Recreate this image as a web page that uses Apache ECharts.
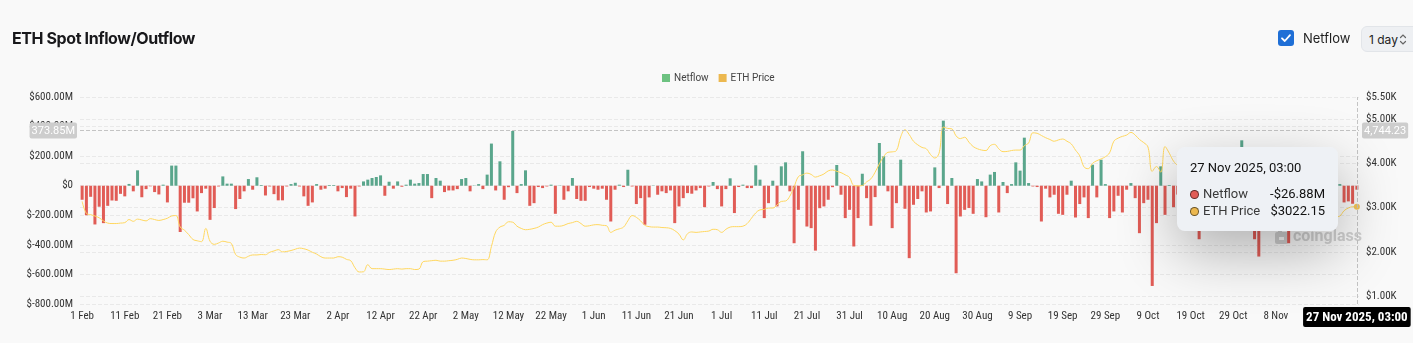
<!DOCTYPE html>
<html>
<head>
<meta charset="utf-8">
<title>ETH Spot Inflow/Outflow</title>
<script src="https://cdn.jsdelivr.net/npm/echarts@6/dist/echarts.min.js"></script>
<style>
  html, body { margin: 0; padding: 0; width: 1413px; height: 343px; overflow: hidden; background: #f9f9f9; font-family: Inter, Roboto, sans-serif; }
  #chart { position: absolute; left: 0; top: 0; width: 1413px; height: 343px; }
  .title { position: absolute; left: 12px; top: 28px; font-size: 16px; line-height: 20px; font-weight: 700; color: #18181b; letter-spacing: -0.4px; z-index: 2; }
  .check { position: absolute; left: 1278px; top: 30px; width: 16px; height: 16px; border-radius: 3px; background: #1f6fd6; z-index: 2; }
  .check svg { position: absolute; left: 2px; top: 2px; }
  .chk-label { position: absolute; left: 1303px; top: 29px; font-size: 13px; line-height: 18px; color: #1f1f1f; z-index: 2; }
  .select { position: absolute; left: 1361px; top: 26px; width: 64px; height: 26px; box-sizing: border-box; border-radius: 6px; background: #eef0f3; border: 1px solid #e2e5e9; z-index: 2; }
  .select span { position: absolute; left: 7px; top: 4px; font-size: 12px; line-height: 17px; color: #222; }
  .select svg { position: absolute; left: 37px; top: 6px; }
</style>
</head>
<body>
<div id="chart"></div>
<div class="title">ETH Spot Inflow/Outflow</div>
<div class="check"><svg width="12" height="12" viewBox="0 0 12 12"><path d="M2 6.3 L4.8 9 L10 3.2" fill="none" stroke="#fff" stroke-width="1.8" stroke-linecap="round" stroke-linejoin="round"/></svg></div>
<div class="chk-label">Netflow</div>
<div class="select"><span>1 day</span><svg width="8" height="13" viewBox="0 0 8 13"><path d="M1.5 4.5 L4 2 L6.5 4.5 M1.5 8.5 L4 11 L6.5 8.5" fill="none" stroke="#666" stroke-width="1.2" stroke-linecap="round"/></svg></div>
<script>
// Daily exchange netflow for ETH spot, in millions of USD (negative = outflow)
const netflowFeb = [-95, -200, -75, -262, -142, -253, -136, -100, -102, -55, -72, 12, -38, 104, -78, -23, -4, -43, -59, 7, -113, 136, 136, -313, -115, -115, -85, -174];
const netflowMar = [-50, -20, -231, -151, -5, 63, 14, 14, -158, -90, -38, 45, -27, 57, 5, -66, -5, -57, -99, -99, -5, 11, 20, -5, -72, -136, -113, 11, -27, -20, 5];
const netflowApr = [5, -38, -16, -77, -20, -208, -5, 29, 41, 52, 59, 70, -68, 27, -20, 29, -7, 7, 41, 14, 18, 79, 79, -84, 52, 34, -43, -32, -32, -23];
const netflowMay = [45, 52, -38, 2, 11, -23, 75, 285, -32, 165, -95, -10, 370, -50, 11, 104, -136, -118, -9, -16, -5, 7, -190, 2, -95, -38, 52, -90, -102, -102, -9];
const netflowJun = [-20, -27, -20, -95, -242, -27, 7, -9, 108, -5, -124, -84, -264, -79, 2, -61, -38, -50, -32, -253, -140, -84, -50, -54, -32, -16, -145, -5, 25, -23];
const netflowJul = [-140, -23, 50, -185, -9, 7, -16, -16, 138, 41, -219, -118, 34, -140, 131, 158, -38, -389, -163, 233, -276, -287, -439, -152, -140, -95, -10, 140, -61, -219, -163];
const netflowAug = [-411, -219, 81, -84, -271, -77, 289, 199, -38, -287, -118, 176, -156, -490, -129, -90, -38, -181, -174, 124, -16, 440, -124, 52, -592, -208, -163, -151, -190, 45, 29];
const netflowSep = [-213, 75, 93, -181, 25, -50, 11, 158, 102, 325, 18, -5, -9, -242, -20, -79, -61, -190, -197, -61, 34, -215, -124, -79, -219, 142, -79, 176, 11, -219];
const netflowOct = [-174, -68, -181, -27, 18, -84, -321, -118, -95, -678, -253, 131, -197, 5, -145, -60, -120, 30, -90, -40, -362, -150, -80, 45, -110, -30, -200, -70, -140, 60, 307];
const netflowNov = [-90, -180, -362, -479, -120, -60, 25, -150, -95, -220, -389, -70, -160, -40, -110, 20, -130, -80, -200, -60, -140, -30, 11, -113, -106, -122, -26.88];

// Daily ETH price, USD
const priceFeb = [3140, 2870, 2840, 2810, 2770, 2700, 2650, 2640, 2640, 2650, 2660, 2730, 2690, 2740, 2720, 2700, 2750, 2730, 2710, 2730, 2760, 2810, 2820, 2560, 2490, 2390, 2280, 2250];
const priceMar = [2230, 2530, 2240, 2170, 2200, 2240, 2220, 2190, 1940, 1880, 1860, 1900, 1930, 1930, 1940, 1935, 1990, 2020, 2050, 2000, 2010, 2030, 2060, 2085, 2070, 2040, 1990, 1950, 1890, 1860, 1860];
const priceApr = [1860, 1890, 1880, 1830, 1800, 1640, 1545, 1550, 1710, 1620, 1620, 1620, 1610, 1600, 1610, 1620, 1610, 1620, 1620, 1600, 1610, 1780, 1790, 1800, 1810, 1790, 1790, 1800, 1810, 1830];
const priceMay = [1860, 1850, 1830, 1820, 1820, 1825, 1820, 2120, 2450, 2560, 2600, 2680, 2670, 2580, 2530, 2500, 2510, 2530, 2560, 2615, 2650, 2670, 2580, 2580, 2600, 2640, 2660, 2690, 2640, 2580, 2590];
const priceJun = [2610, 2615, 2600, 2590, 2440, 2490, 2520, 2560, 2700, 2820, 2780, 2700, 2600, 2570, 2560, 2560, 2550, 2545, 2530, 2480, 2400, 2270, 2410, 2450, 2440, 2450, 2460, 2470, 2510, 2500];
const priceJul = [2440, 2510, 2560, 2570, 2570, 2580, 2640, 2760, 2880, 2950, 2960, 2990, 2990, 3060, 3140, 3150, 3260, 3470, 3700, 3740, 3780, 3750, 3690, 3720, 3760, 3830, 3850, 3820, 3790, 3740, 3680];
const priceAug = [3500, 3490, 3500, 3580, 3650, 3800, 3990, 4150, 4250, 4260, 4290, 4600, 4760, 4650, 4500, 4420, 4360, 4330, 4200, 4120, 4230, 4820, 4790, 4780, 4620, 4560, 4590, 4480, 4380, 4330, 4300];
const priceSep = [4290, 4400, 4430, 4330, 4265, 4270, 4290, 4300, 4300, 4400, 4460, 4690, 4680, 4630, 4580, 4540, 4500, 4530, 4550, 4500, 4440, 4300, 4170, 3920, 3880, 4000, 4060, 4100, 4150, 4240];
const priceOct = [4500, 4570, 4610, 4640, 4700, 4640, 4540, 4470, 4370, 3820, 3930, 3800, 4380, 4230, 4050, 3950, 3880, 3900, 3980, 3960, 3870, 3820, 3860, 3930, 3950, 4150, 4120, 3980, 3900, 3800, 3850];
const priceNov = [3880, 3900, 3600, 3300, 3420, 3320, 3440, 3400, 3590, 3560, 3420, 3410, 3230, 3120, 3160, 3080, 3000, 3120, 3010, 2840, 2770, 2790, 2810, 2930, 2990, 3020, 3022.15];

const netflow = [].concat(netflowFeb, netflowMar, netflowApr, netflowMay, netflowJun, netflowJul, netflowAug, netflowSep, netflowOct, netflowNov);
const price = [].concat(priceFeb, priceMar, priceApr, priceMay, priceJun, priceJul, priceAug, priceSep, priceOct, priceNov);

// One category per day, starting 1 Feb 2025
const firstDay = Date.UTC(2025, 1, 1);
const monthNames = ['Jan', 'Feb', 'Mar', 'Apr', 'May', 'Jun', 'Jul', 'Aug', 'Sep', 'Oct', 'Nov', 'Dec'];
const days = netflow.map((_, i) => new Date(firstDay + i * 86400000).toISOString().slice(0, 10));

// Axis settings
const netflowAxis = { min: -800, max: 600, interval: 200 };
const priceAxis = { min: 821.32, max: 5500 };
const pointerValue = 373.85;

const GREEN = '#5aa68c', RED = '#e15c56', GOLD = '#f3c457';
const NARROW = "'Liberation Sans Narrow', 'Roboto Condensed', 'DejaVu Sans Condensed', sans-serif";

function shortDay(s) {
  const d = new Date(s + 'T00:00:00Z');
  return d.getUTCDate() + ' ' + monthNames[d.getUTCMonth()];
}
function longDay(s) {
  const d = new Date(s + 'T00:00:00Z');
  return d.getUTCDate() + ' ' + monthNames[d.getUTCMonth()] + ' ' + d.getUTCFullYear() + ', 03:00';
}
function moneyM(v) { return (v < 0 ? '-$' : '$') + Math.abs(v).toFixed(2) + 'M'; }

const chart = echarts.init(document.getElementById('chart'), null, { renderer: 'canvas' });

const dot = c => '<span style="display:inline-block;width:7px;height:7px;border-radius:50%;background:' + c + ';border:1px solid rgba(0,0,0,0.55);margin-right:4px;vertical-align:-1px"></span>';

// Gray value tags on both y axes at the crosshair level
const yTag = { backgroundColor: '#cdcdcd', color: '#fff', fontSize: 11, fontFamily: 'Roboto, sans-serif', padding: [3, 2, 2, 2], borderRadius: 2 };

chart.setOption({
  animation: false,
  backgroundColor: 'transparent',
  textStyle: { fontFamily: 'Roboto, sans-serif' },
  legend: {
    top: 68, left: 657,
    icon: 'rect', itemWidth: 8, itemHeight: 8, itemGap: 10,
    textStyle: { fontSize: 10, color: '#444', padding: [0, 0, 0, -1] },
    data: [
      { name: 'Netflow', itemStyle: { color: '#6dc281' } },
      { name: 'ETH Price', itemStyle: { color: '#ecb84f' } }
    ]
  },
  grid: { left: 80, right: 54, top: 97, bottom: 39 },
  tooltip: {
    trigger: 'axis',
    alwaysShowContent: true,
    axisPointer: {
      type: 'cross',
      lineStyle: { color: '#c4c4c4', type: 'dashed', width: 1 },
      crossStyle: { color: '#c4c4c4', type: 'dashed', width: 1 }
    },
    backgroundColor: '#eef1f5',
    borderWidth: 0,
    padding: [12, 13, 12, 13],
    extraCssText: 'border-radius:8px;box-shadow:0 20px 60px rgba(0,0,0,0.3);',
    position: function () { return [1177, 147]; },
    formatter: function (params) {
      const i = params[0].dataIndex;
      const nf = netflow[i], pr = price[i];
      const row = (c, name, val) => '<div style="display:flex;justify-content:space-between;line-height:17px;font-size:13px"><span style="color:#3a3a3a">' + dot(c) + name + '</span><span style="color:#111">' + val + '</span></div>';
      return '<div style="width:135px;font-family:Roboto,sans-serif">' +
        '<div style="font-size:13px;line-height:18px;color:#111;margin-bottom:8px">' + longDay(days[i]) + '</div>' +
        row(nf < 0 ? RED : GREEN, 'Netflow', moneyM(nf)) +
        row('#ecb84f', 'ETH Price', '$' + pr.toFixed(2)) +
        '</div>';
    }
  },
  xAxis: {
    type: 'category',
    data: days,
    axisLine: { show: false },
    axisTick: { show: false },
    axisLabel: { interval: 9, fontSize: 11, fontFamily: NARROW, color: '#333', margin: 7, formatter: shortDay },
    axisPointer: {
      label: {
        backgroundColor: '#000', color: '#fff', fontSize: 13, fontWeight: 700, fontFamily: NARROW,
        padding: [4, 3, 3, 3], borderRadius: 2,
        formatter: p => longDay(p.value)
      }
    }
  },
  yAxis: [
    {
      type: 'value', position: 'left',
      min: netflowAxis.min, max: netflowAxis.max, interval: netflowAxis.interval,
      axisLine: { show: false }, axisTick: { show: false },
      axisLabel: { fontSize: 11, fontFamily: NARROW, color: '#333', margin: 7, formatter: v => v === 0 ? '$0' : '$' + v.toFixed(2) + 'M' },
      splitLine: { lineStyle: { color: '#e9e9e9', type: 'dashed' } },
      axisPointer: {
        label: Object.assign({}, yTag, { formatter: p => Number(p.value).toFixed(2) + 'M' })
      }
    },
    {
      type: 'value', position: 'right',
      min: priceAxis.min, max: priceAxis.max,
      axisLine: { show: false }, axisTick: { show: false },
      axisLabel: { fontSize: 11, fontFamily: NARROW, color: '#333', margin: 7, showMinLabel: false, formatter: v => '$' + (v / 1000).toFixed(2) + 'K' },
      splitLine: { lineStyle: { color: '#e9e9e9', type: 'dashed' } },
      axisPointer: {
        label: Object.assign({}, yTag, { formatter: p => Number(p.value).toLocaleString('en-US', { minimumFractionDigits: 2, maximumFractionDigits: 2 }) })
      }
    }
  ],
  graphic: [
    {
      type: 'group', left: 1275, top: 229, silent: true, z: 0,
      children: [
        { type: 'rect', shape: { x: 0, y: 3, width: 13, height: 12, r: 2 }, style: { fill: '#cfcfcf' } },
        { type: 'rect', shape: { x: 3, y: 0, width: 4, height: 5 }, style: { fill: '#cfcfcf' } },
        { type: 'rect', shape: { x: 4, y: 8, width: 5, height: 3 }, style: { fill: '#f9f9f9' } },
        { type: 'text', x: 18, y: 0, style: { text: 'coinglass', fontSize: 16, fontWeight: 700, fontFamily: 'Roboto, sans-serif', fill: '#cfcfcf' } }
      ]
    }
  ],
  series: [
    {
      name: 'Netflow', type: 'bar', yAxisIndex: 0, barWidth: 3,
      data: netflow.map(v => ({ value: v, itemStyle: { color: v < 0 ? RED : GREEN } })),
      emphasis: { disabled: true }
    },
    {
      name: 'ETH Price', type: 'line', yAxisIndex: 1, smooth: 0.4,
      showSymbol: false, symbol: 'circle', symbolSize: 5,
      itemStyle: { color: GOLD },
      lineStyle: { color: GOLD, width: 1 },
      data: price
    }
  ]
});

// Hover state: last day, crosshair at the 373.85M level
const px = chart.convertToPixel({ xAxisIndex: 0 }, days.length - 1);
const py = chart.convertToPixel({ yAxisIndex: 0 }, pointerValue);
chart.dispatchAction({ type: 'showTip', x: px, y: py });
</script>
</body>
</html>
